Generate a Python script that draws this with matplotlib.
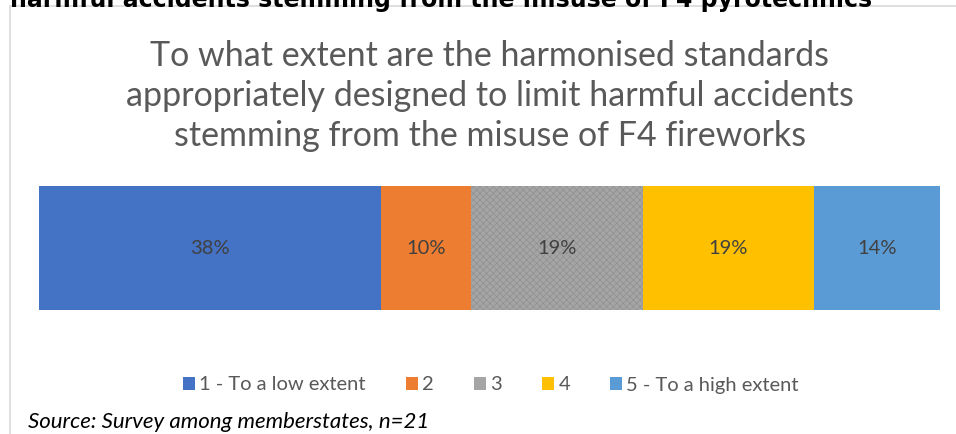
import matplotlib.pyplot as plt
from matplotlib.patches import Rectangle, Patch

# Survey answers (share of member states, %)
categories = ["1 - To a low extent", "2", "3", "4", "5 - To a high extent"]
shares = [38, 10, 19, 19, 14]
colors = ["#4472c4", "#ed7d31", "#a5a5a5", "#ffc000", "#5b9bd5"]

title = ("To what extent are the harmonised standards\n"
         "appropriately designed to limit harmful accidents\n"
         "stemming from the misuse of F4 fireworks")
heading = "harmful accidents stemming from the misuse of F4 pyrotechnics"
source = "Source: Survey among memberstates, n=21"

plt.rcParams["hatch.linewidth"] = 0.4

fig = plt.figure(figsize=(9.56, 4.34), dpi=100)
W, H = 956, 434

# chart frame
fig.patches.append(Rectangle((10 / W, -0.1), 1.0, (H - 6) / H + 0.1,
                             transform=fig.transFigure, fill=False,
                             edgecolor="#d9d9d9", linewidth=1.2))

# heading cut off at the top
fig.text(10 / W, 1 - 0 / H, heading, fontsize=17, fontweight="bold",
         family="DejaVu Sans", ha="left", va="center", color="black")

fig.text(490 / W, 1 - 96 / H, title, fontsize=24.5, color="#595959",
         family="Lato", ha="center", va="center", linespacing=1.3)

ax = fig.add_axes([39 / W, 1 - 310 / H, 901 / W, 124 / H])
left = 0
handles = []
for cat, val, col in zip(categories, shares, colors):
    if cat == "3":
        ax.barh(0, val, left=left, height=1, color=col, edgecolor="#8c8c8c",
                hatch="xxxxx", linewidth=0)
    else:
        ax.barh(0, val, left=left, height=1, color=col, linewidth=0)
    ax.text(left + val / 2, 0, f"{val}%", ha="center", va="center",
            fontsize=14.5, color="#404040", family="Lato")
    handles.append(Patch(facecolor=col, label=cat))
    left += val

ax.set_xlim(0, sum(shares))
ax.set_ylim(-0.5, 0.5)
ax.axis("off")

fig.legend(handles=handles, loc="center", bbox_to_anchor=(491 / W, 1 - 385 / H),
           ncol=5, frameon=False, handlelength=0.6, handleheight=0.6,
           handletextpad=0.2, columnspacing=2.0,
           prop={"family": "Lato", "size": 14.5}, labelcolor="#595959")

fig.text(28 / W, 1 - 422 / H, source, fontsize=16, style="italic",
         family="Lato", ha="left", va="center", color="black")

fig.savefig("out.png", dpi=100)
